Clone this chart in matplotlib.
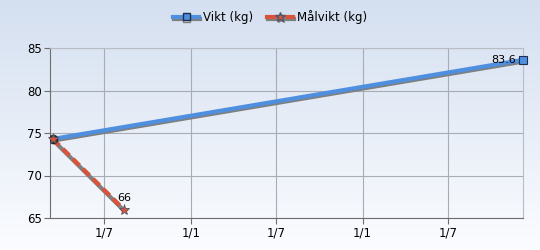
import matplotlib

matplotlib.use("Agg")

import matplotlib.dates as mdates
import matplotlib.patheffects as pe
import matplotlib.pyplot as plt
import matplotlib.transforms as mtransforms
import numpy as np
import pandas as pd
from matplotlib.lines import Line2D
from matplotlib.ticker import FuncFormatter

weight_dates = ["2013-03-14", "2015-12-08"]
weight_values = [74.3, 83.6]
goal_dates = ["2013-03-14", "2013-08-12"]
goal_values = [74.3, 66.0]
series_labels = ["Vikt (kg)", "Målvikt (kg)"]
y_ticks = [65, 70, 75, 80, 85]

BLUE = "#4f8fe0"
RED = "#d9533b"
SHADOW = "#7f7f7f"

plt.rcParams["font.family"] = ["DejaVu Sans"]
plt.rcParams["font.size"] = 8

fig = plt.figure(figsize=(5.4, 2.5), dpi=100)

# background gradient over the whole figure
bg = fig.add_axes([0, 0, 1, 1], zorder=-10)
grad = np.linspace(0, 1, 256).reshape(-1, 1)
top = np.array([0.831, 0.875, 0.941])
bottom = np.array([0.985, 0.99, 1.0])
img = top + (bottom - top) * grad[:, :, None]
bg.imshow(img, aspect="auto", extent=[0, 1, 0, 1])
bg.axis("off")

ax = fig.add_axes([50 / 540, 1 - 218 / 250, (523 - 50) / 540, (218 - 48) / 250])
ax.patch.set_alpha(0)

wd = pd.to_datetime(weight_dates)
gd = pd.to_datetime(goal_dates)

shadow = mtransforms.offset_copy(ax.transData, fig=fig, x=0.6, y=-1.6, units="dots")

ax.plot(wd, weight_values, color=SHADOW, linewidth=3, transform=shadow, zorder=2, solid_capstyle="butt")
ax.plot(wd, weight_values, color=BLUE, linewidth=3, zorder=3, solid_capstyle="butt")
ax.plot(wd[-1:], weight_values[-1:], marker="s", markersize=5.5, color=BLUE,
        markeredgecolor="#1f2f4f", markeredgewidth=0.8, linestyle="none", zorder=5, clip_on=False)
ax.plot(wd[:1], weight_values[:1], marker="o", markersize=6, color="#2a2a2a", linestyle="none", zorder=4)

ax.plot(gd, goal_values, color=SHADOW, linewidth=3, transform=shadow, zorder=2, solid_capstyle="butt")
ax.plot(gd, goal_values, color=RED, linewidth=3, linestyle=(0, (2.2, 1.2)), zorder=3)
ax.plot(gd, goal_values, marker="*", markersize=8, color=RED, markeredgecolor="#555566",
        markeredgewidth=0.6, linestyle="none", zorder=5, clip_on=False)

ax.annotate(f"{weight_values[-1]:g}", (wd[-1], weight_values[-1]), xytext=(-5, 0),
            textcoords="offset points", ha="right", va="center", fontsize=8, zorder=6)
ax.annotate(f"{goal_values[-1]:g}", (gd[-1], goal_values[-1]), xytext=(0, 5),
            textcoords="offset points", ha="center", va="bottom", fontsize=8, zorder=6)

ax.set_ylim(65, 85)
ax.set_yticks(y_ticks)
ax.set_xlim(wd[0] - pd.Timedelta(days=6), wd[-1])
ax.xaxis.set_major_locator(mdates.MonthLocator(bymonth=[1, 7]))
ax.xaxis.set_major_formatter(FuncFormatter(lambda v, pos: f"{mdates.num2date(v).day}/{mdates.num2date(v).month}"))

ax.grid(True, color="#a8acb4", linewidth=0.8)
ax.set_axisbelow(True)
for side in ["top", "right"]:
    ax.spines[side].set_color("#b8bcc4")
for side in ["left", "bottom"]:
    ax.spines[side].set_color("#6e6e6e")
ax.tick_params(axis="both", length=4, color="#6e6e6e", labelsize=8.5, pad=2)

legend_fx = [pe.SimpleLineShadow(offset=(0.5, -1.2), shadow_color=SHADOW, alpha=1), pe.Normal()]
handles = [
    Line2D([], [], color=BLUE, linewidth=3, marker="s", markersize=5, markeredgecolor="#1f2f4f",
           path_effects=legend_fx),
    Line2D([], [], color=RED, linewidth=3, marker="*", markersize=7, markeredgecolor="#555566",
           path_effects=legend_fx),
]
fig.legend(handles, series_labels, loc="center", bbox_to_anchor=(0.5, 1 - 17 / 250), ncol=2,
           frameon=False, fontsize=8.5, handlelength=2.2, handletextpad=0.3, columnspacing=1.2)

fig.savefig("out.png", dpi=100)
